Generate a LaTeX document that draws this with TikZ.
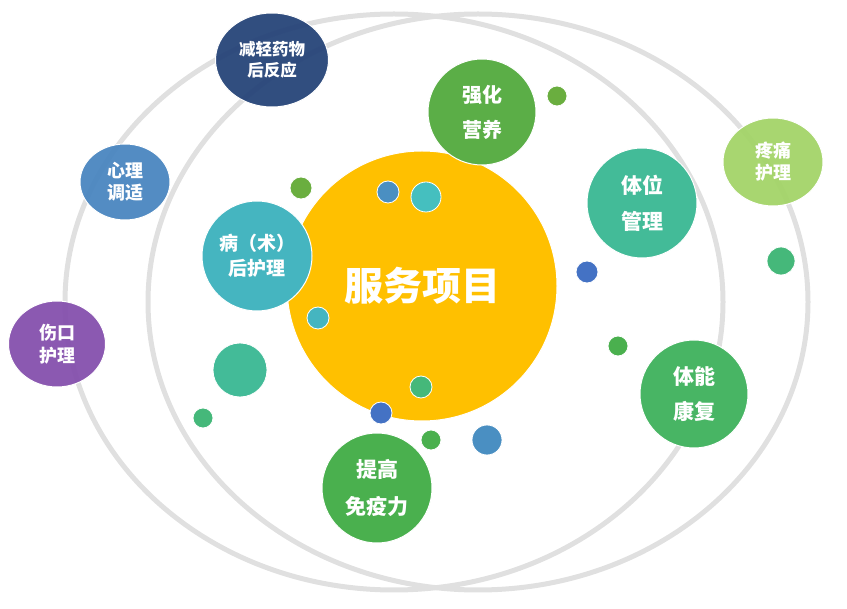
\documentclass[tikz,border=0pt]{standalone}
\usepackage{fontspec}
\setmainfont{Noto Sans CJK SC}
\usetikzlibrary{shapes.geometric}
\usetikzlibrary{positioning}
\definecolor{ringgray}{HTML}{E0E0E0}
\definecolor{hubyellow}{HTML}{FFC000}
\definecolor{navy}{HTML}{264478}
\definecolor{leafgreen}{HTML}{5BAE47}
\definecolor{skyblue}{HTML}{4A86C0}
\definecolor{teal}{HTML}{45B5C0}
\definecolor{purple}{HTML}{8550AD}
\definecolor{seagreen}{HTML}{43BB98}
\definecolor{lime}{HTML}{A3D468}
\definecolor{midgreen}{HTML}{48B564}
\definecolor{grassgreen}{HTML}{4AB04E}
\definecolor{olive}{HTML}{6AAE3F}
\definecolor{dotblue}{HTML}{4A8FC2}
\definecolor{royal}{HTML}{4472C4}
\definecolor{aqua}{HTML}{45BFBF}
\definecolor{jade}{HTML}{45B87A}
\tikzstyle{bubble}=[ellipse,draw=white,line width=1pt,inner sep=0pt,text=white,align=center]
\newcommand{\fsz}[2]{\fontsize{#1}{#2}\selectfont\bfseries}

\begin{document}
\begin{tikzpicture}[x=1pt,y=-1pt]
\tikzstyle{ring}=[draw=ringgray,line width=5pt]
\tikzstyle{dot}=[circle,draw=white,line width=0.8pt,inner sep=0pt]
\useasboundingbox (0,0) rectangle (847,609);
% the two large rings
\draw[ring] (394,302) ellipse [x radius=329,y radius=288];
\draw[ring] (478,302) ellipse [x radius=330,y radius=288];
% centre
\node [bubble,fill=hubyellow,minimum width=270,minimum height=270,font=\fsz{39}{44}] (hub) at (422,286) {服务项目};
% services
\node [bubble,fill=navy,fill opacity=0.95,text opacity=1,minimum width=113,minimum height=94,font=\fsz{16.5}{21}] (drug) at (272,60) {减轻药物\\后反应};
\node [bubble,fill=leafgreen,minimum width=108,minimum height=106,font=\fsz{20}{35}] (nutri) at (482,112) {强化\\营养};
\node [bubble,fill=skyblue,fill opacity=0.95,text opacity=1,minimum width=90,minimum height=76,font=\fsz{18}{22}] (mind) at (125,182) {心理\\调适};
\node [bubble,fill=teal,minimum width=110,minimum height=110,font=\fsz{19}{25}] (postop) at (257,256) {病（术）\\后护理};
\node [bubble,fill=purple,fill opacity=0.95,text opacity=1,minimum width=97,minimum height=86,font=\fsz{18}{23}] (wound) at (57,344) {伤口\\护理};
\node [bubble,fill=seagreen,minimum width=110,minimum height=110,font=\fsz{21}{36}] (posture) at (642,203) {体位\\管理};
\node [bubble,fill=lime,fill opacity=0.95,text opacity=1,minimum width=100,minimum height=88,font=\fsz{18}{22}] (pain) at (773,162) {疼痛\\护理};
\node [bubble,fill=midgreen,minimum width=108,minimum height=108,font=\fsz{21}{35}] (fitness) at (694,394) {体能\\康复};
\node [bubble,fill=grassgreen,minimum width=110,minimum height=110,font=\fsz{21}{37}] (immune) at (377,488) {提高\\免疫力};
% small dots
\foreach \name/\pos/\size/\col in {
  a/{557,96}/20/olive, b/{301,188}/22/olive, c/{388,192}/22/dotblue,
  d/{426,197}/30/aqua, e/{318,318}/22/teal, f/{240,370}/54/seagreen,
  g/{203,418}/20/jade, h/{421,387}/22/jade, i/{381,413}/22/royal,
  j/{431,440}/20/grassgreen, k/{487,440}/30/dotblue, l/{587,272}/22/royal,
  m/{781,261}/28/jade, n/{618,346}/20/grassgreen}
  \node [dot,fill=\col,minimum size=\size] (dot\name) at (\pos) {};
\end{tikzpicture}
\end{document}
